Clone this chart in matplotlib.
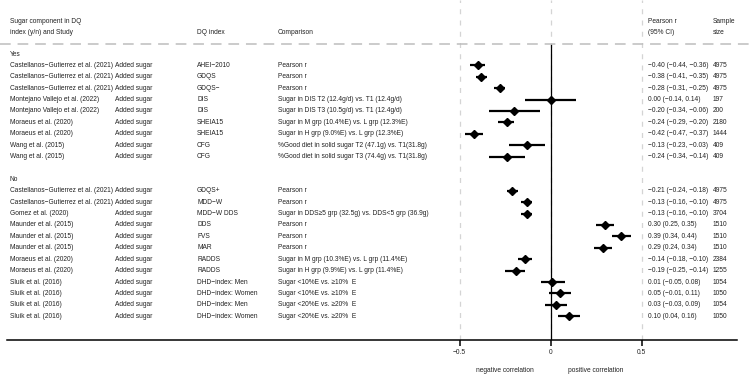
import matplotlib
matplotlib.use("Agg")
import matplotlib.pyplot as plt
import matplotlib.transforms as mtransforms

plt.rcParams['font.family'] = ['Liberation Sans', 'DejaVu Sans']

# ---------------- data ----------------
groups = ["Yes", "No"]
group_sizes = [9, 12]

studies = [
    "Castellanos−Gutierrez et al. (2021)", "Castellanos−Gutierrez et al. (2021)",
    "Castellanos−Gutierrez et al. (2021)", "Montejano Vallejo et al. (2022)",
    "Montejano Vallejo et al. (2022)", "Moraeus et al. (2020)", "Moraeus et al. (2020)",
    "Wang et al. (2015)", "Wang et al. (2015)",
    "Castellanos−Gutierrez et al. (2021)", "Castellanos−Gutierrez et al. (2021)",
    "Gomez et al. (2020)", "Maunder et al. (2015)", "Maunder et al. (2015)",
    "Maunder et al. (2015)", "Moraeus et al. (2020)", "Moraeus et al. (2020)",
    "Sluik et al. (2016)", "Sluik et al. (2016)", "Sluik et al. (2016)", "Sluik et al. (2016)",
]
sugar_component = ["Added sugar"] * 21
dq_index = [
    "AHEI−2010", "GDQS", "GDQS−", "DIS", "DIS", "SHEIA15", "SHEIA15", "CFG", "CFG",
    "GDQS+", "MDD−W", "MDD−W DDS", "DDS", "FVS", "MAR", "RADDS", "RADDS",
    "DHD−index: Men", "DHD−index: Women", "DHD−index: Men", "DHD−index: Women",
]
comparison = [
    "Pearson r", "Pearson r", "Pearson r",
    "Sugar in DIS T2 (12.4g/d) vs. T1 (12.4g/d)",
    "Sugar in DIS T3 (10.5g/d) vs. T1 (12.4g/d)",
    "Sugar in M grp (10.4%E) vs. L grp (12.3%E)",
    "Sugar in H grp (9.0%E) vs. L grp (12.3%E)",
    "%Good diet in solid sugar T2 (47.1g) vs. T1(31.8g)",
    "%Good diet in solid sugar T3 (74.4g) vs. T1(31.8g)",
    "Pearson r", "Pearson r",
    "Sugar in DDS≥5 grp (32.5g) vs. DDS<5 grp (36.9g)",
    "Pearson r", "Pearson r", "Pearson r",
    "Sugar in M grp (10.3%E) vs. L grp (11.4%E)",
    "Sugar in H grp (9.9%E) vs. L grp (11.4%E)",
    "Sugar <10%E vs. ≥10%  E", "Sugar <10%E vs. ≥10%  E",
    "Sugar <20%E vs. ≥20%  E", "Sugar <20%E vs. ≥20%  E",
]
est = [-0.40, -0.38, -0.28, 0.00, -0.20, -0.24, -0.42, -0.13, -0.24,
       -0.21, -0.13, -0.13, 0.30, 0.39, 0.29, -0.14, -0.19, 0.01, 0.05, 0.03, 0.10]
lo = [-0.44, -0.41, -0.31, -0.14, -0.34, -0.29, -0.47, -0.23, -0.34,
      -0.24, -0.16, -0.16, 0.25, 0.34, 0.24, -0.18, -0.25, -0.05, -0.01, -0.03, 0.04]
hi = [-0.36, -0.35, -0.25, 0.14, -0.06, -0.20, -0.37, -0.03, -0.14,
      -0.18, -0.10, -0.10, 0.35, 0.44, 0.34, -0.10, -0.14, 0.08, 0.11, 0.09, 0.16]
sample_size = [4975, 4975, 4975, 197, 200, 2180, 1444, 409, 409,
               4975, 4975, 3704, 1510, 1510, 1510, 2384, 1255, 1054, 1050, 1054, 1050]

xticks = [-0.5, 0, 0.5]
xtick_labels = ["−0.5", "0", "0.5"]
header1 = ["Sugar component in DQ", "", "", "", "Pearson r", "Sample"]
header2 = ["index (y/n) and Study", "", "DQ index", "Comparison", "(95% CI)", "size"]
left_label = "negative correlation"
right_label = "positive correlation"

# ---------------- layout ----------------
W, H = 749, 379
FS = 4.8
TXT = "#222222"
fig = plt.figure(figsize=(W / 100, H / 100), dpi=100)

px0, px_scale = 550.5, 182.0          # pixel of r=0, pixels per unit r
row0_px, row_px = 54.0, 11.4          # pixel of first row, pixels per row
ax_left_px, ax_right_px, ax_bottom_px = 7, 737, 340

ax = fig.add_axes([ax_left_px / W, (H - ax_bottom_px) / H,
                   (ax_right_px - ax_left_px) / W, ax_bottom_px / H])
ax.set_xlim((ax_left_px - px0) / px_scale, (ax_right_px - px0) / px_scale)
y_bottom = (ax_bottom_px - row0_px) / row_px
y_top = (0 - row0_px) / row_px
ax.set_ylim(y_bottom, y_top)
ax.patch.set_alpha(0)

for s in ["top", "left", "right"]:
    ax.spines[s].set_visible(False)
ax.spines["bottom"].set_linewidth(1.1)
ax.set_yticks([])
ax.set_xticks(xticks)
ax.set_xticklabels(xtick_labels, fontsize=FS, color=TXT)
ax.tick_params(axis="x", direction="out", length=4.3, width=1.1, pad=2.5)

trans = mtransforms.blended_transform_factory(fig.transFigure, ax.transData)
col_px = [10, 115, 197, 278, 648, 713]

# header
hdr_y1, hdr_y2, hline_y = (21.7 - row0_px) / row_px, (32 - row0_px) / row_px, (44 - row0_px) / row_px
for cx, t1, t2 in zip(col_px, header1, header2):
    if t1:
        ax.text(cx / W, hdr_y1, t1, transform=trans, fontsize=FS, va="center", ha="left", color=TXT)
    if t2:
        ax.text(cx / W, hdr_y2, t2, transform=trans, fontsize=FS, va="center", ha="left", color=TXT)
ax.plot([0, 1], [hline_y, hline_y], transform=trans, color="#bdbdbd", lw=1.1,
        ls=(0, (7, 4.5)), clip_on=False)

# grid lines
for xv in xticks:
    ax.axvline(xv, color="#d4d4d4", lw=0.9, ls=(0, (4, 5)), zorder=0)
ax.vlines(0, hline_y, y_bottom, color="black", lw=0.9, zorder=1)

# rows
ypos = []
cur = 0
for g, size in zip(groups, group_sizes):
    ax.text(col_px[0] / W, cur, g, transform=trans, fontsize=FS, va="center", ha="left", color=TXT)
    for j in range(size):
        ypos.append(cur + 1 + j)
    cur += size + 2

for i, y in enumerate(ypos):
    ax.text(col_px[0] / W, y, studies[i], transform=trans, fontsize=FS, va="center", color=TXT)
    ax.text(col_px[1] / W, y, sugar_component[i], transform=trans, fontsize=FS, va="center", color=TXT)
    ax.text(col_px[2] / W, y, dq_index[i], transform=trans, fontsize=FS, va="center", color=TXT)
    ax.text(col_px[3] / W, y, comparison[i], transform=trans, fontsize=FS, va="center", color=TXT)
    ci = f"{est[i]:.2f} ({lo[i]:.2f}, {hi[i]:.2f})".replace("-", "−")
    ax.text(col_px[4] / W, y, ci, transform=trans, fontsize=FS, va="center", color=TXT)
    ax.text(col_px[5] / W, y, str(sample_size[i]), transform=trans, fontsize=FS, va="center", color=TXT)

ax.hlines(ypos, lo, hi, color="black", lw=1.6, zorder=3)
ax.plot(est, ypos, ls="none", marker="D", ms=3.8, color="black", zorder=4)

# bottom labels
lab_y = (371 - row0_px) / row_px
ax.text(-0.25, lab_y, left_label, fontsize=FS, ha="center", va="center", clip_on=False, color=TXT)
ax.text(0.25, lab_y, right_label, fontsize=FS, ha="center", va="center", clip_on=False, color=TXT)

fig.savefig("out.png", dpi=100)
